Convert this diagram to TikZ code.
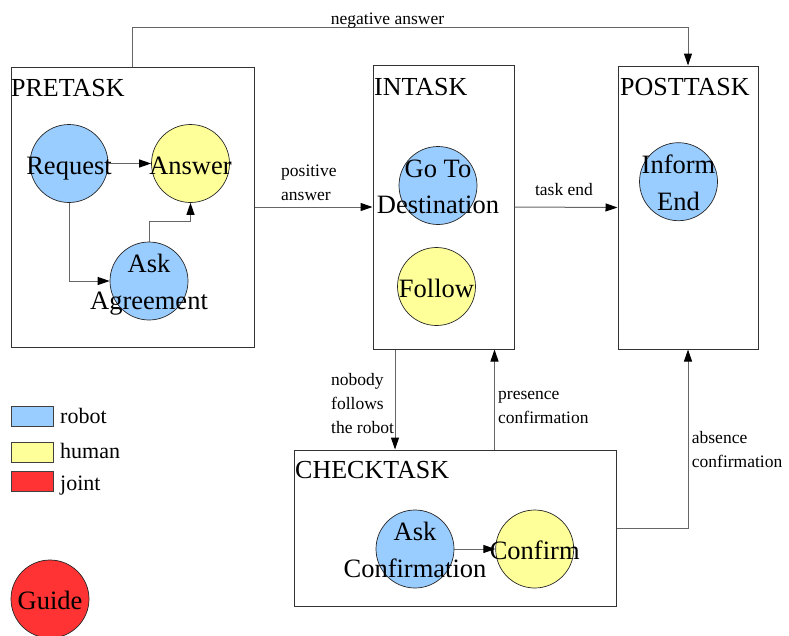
\documentclass[tikz,border=0pt]{standalone}
\usepackage{fontspec}
\setmainfont{Liberation Serif}
\usetikzlibrary{arrows.meta}
\definecolor{robotblue}{HTML}{99CCFF}
\definecolor{humanyellow}{HTML}{FFFF99}
\definecolor{jointred}{HTML}{FF3333}
% zero-width text so the circles keep their own size
\newcommand\oneline[1]{\makebox[0pt]{#1}}
\newcommand\twoline[2]{\makebox[0pt]{\begin{tabular}[b]{@{}c@{}}#1\\#2\end{tabular}}}
\newcommand\leftlines[1]{\begin{tabular}[t]{@{}l@{}}#1\end{tabular}}
\begin{document}
\begin{tikzpicture}[x=1pt,y=-1pt,
  taskbox/.style={draw=black!80, line width=1pt, rectangle, inner sep=0pt},
  tasktitle/.style={anchor=base west, inner sep=0pt, font=\fontsize{26}{30}\selectfont},
  state/.style={circle, draw=black!85, line width=0.7pt, inner sep=0pt,
    minimum size=78pt, font=\fontsize{26.5}{36.6}\selectfont,
    text height=21pt, text depth=0pt},
  statetwo/.style={state, text height=56.6pt},
  robot/.style={fill=robotblue},
  human/.style={fill=humanyellow},
  joint/.style={fill=jointred},
  flow/.style={draw=black!60, line width=1pt, -{Triangle[length=12pt,width=8pt,black]}},
  lbl/.style={inner sep=0pt, font=\fontsize{17.5}{24}\selectfont},
  key/.style={draw=black!75, line width=0.8pt, minimum width=42pt,
    minimum height=20pt, inner sep=0pt},
  keytext/.style={anchor=base west, inner sep=0pt, font=\fontsize{22}{26}\selectfont}]
\useasboundingbox (0,0) rectangle (789,635);

% task boxes
\node[taskbox, minimum width=243pt, minimum height=280pt] (pre)  at (132.5,207) {};
\node[taskbox, minimum width=141pt, minimum height=284pt] (int)  at (443.5,207) {};
\node[taskbox, minimum width=140pt, minimum height=283pt] (post) at (688,207.5) {};
\node[taskbox, minimum width=322pt, minimum height=156pt] (chk)  at (455,528) {};

\node[tasktitle] (pretitle)  at (11,96)   {PRETASK};
\node[tasktitle] (inttitle)  at (374,95)  {INTASK};
\node[tasktitle] (posttitle) at (620,95)  {POSTTASK};
\node[tasktitle] (chktitle)  at (295,478) {CHECKTASK};

% states
\node[state, robot]     (req) at (69,163.5)  {\oneline{Request}};
\node[state, human]     (ans) at (190.5,163.5) {\oneline{Answer}};
\node[statetwo, robot]  (agr) at (149,281)   {\twoline{Ask}{Agreement}};
\node[statetwo, robot]  (gtd) at (438,185.5) {\twoline{Go To}{Destination}};
\node[state, human]     (fol) at (436.5,286.5) {\oneline{Follow}};
\node[statetwo, robot]  (inf) at (678.5,181.7) {\twoline{Inform}{End}};
\node[statetwo, robot]  (acf) at (415,549)   {\twoline{Ask}{Confirmation}};
\node[state, human]     (cnf) at (534.7,549) {\oneline{Confirm}};
\node[state, joint]     (gde) at (50,599)    {\oneline{Guide}};

% transitions inside the boxes
\draw[flow] (req) -- (ans);
\draw[flow] (req.south) |- (agr.west);
\draw[flow] (agr.north) -- ++(0,-20) -| (ans.south);
\draw[flow] (acf) -- (cnf);

% transitions between the boxes
\draw[flow] (pre.north) -- ++(0,-39.5) -| (post.north);
\draw[flow] (pre.east) -- (int.west);
\draw[flow] (int.east) -- (post.west);
\draw[flow] ([xshift=-48.5pt]int.south) -- ([xshift=-48.5pt]int.south |- chk.north);
\draw[flow] ([xshift=51pt]int.south |- chk.north) -- ([xshift=51pt]int.south);
\draw[flow] (chk.east) -| (post.south);

% transition labels
\node[lbl, anchor=base] (lneg) at (387.5,24) {negative answer};
\node[lbl, anchor=base west] (lpos) at (281,176.7) {\leftlines{positive\\answer}};
\node[lbl, anchor=base] (lend) at (564,195) {task end};
\node[lbl, anchor=base west] (lnob) at (331,385) {\leftlines{nobody\\follows\\the robot}};
\node[lbl, anchor=base west] (lpre) at (498,399) {\leftlines{presence\\confirmation}};
\node[lbl, anchor=base west] (labs) at (691.7,443) {\leftlines{absence\\confirmation}};

% legend
\node[key, robot] (krobot) at (32,416) {};
\node[key, human] (khuman) at (32,452) {};
\node[key, joint] (kjoint) at (32,481.5) {};
\node[keytext] (trobot) at (60,423) {robot};
\node[keytext] (thuman) at (60,458) {human};
\node[keytext] (tjoint) at (60,490) {joint};
\end{tikzpicture}
\end{document}
